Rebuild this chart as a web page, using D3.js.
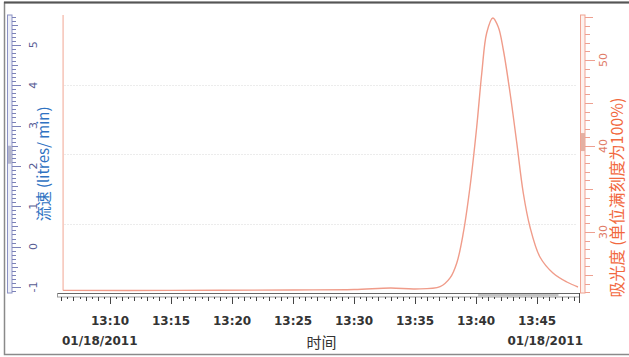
<!DOCTYPE html>
<html>
<head>
<meta charset="utf-8">
<script src="https://cdn.jsdelivr.net/npm/d3@7"></script>
<style>
  body { margin: 0; background: #fff; }
  svg { display: block; }
</style>
</head>
<body>
<div id="showBox"></div>
<script>
// absorbance trace, time of day vs percent of full scale
const times = ["13:06:09", "13:15:00", "13:25:00", "13:30:00", "13:33:00", "13:35:00", "13:37:03", "13:37:52",
  "13:38:25", "13:38:57", "13:39:30", "13:40:03", "13:40:28", "13:40:52", "13:41:22", "13:41:49", "13:42:14",
  "13:42:47", "13:43:20", "13:43:52", "13:44:25", "13:45:14", "13:46:18", "13:47:26", "13:48:21"]
const absorb = [23.2, 23.2, 23.25, 23.3, 23.48, 23.37, 23.64, 24.65,
  26.39, 29.88, 35.23, 42.21, 48.49, 53.14, 54.88, 53.83, 51.16,
  46.16, 40.35, 34.53, 30.58, 27.09, 25.23, 24.18, 23.6]

const timeRange = ["13:05:44", "13:48:26"]
const flowRange = [-1.15, 5.74]
const absRange = [22.9, 55.23]
const flowLabels = [-1, 0, 1, 2, 3, 4, 5]
const absLabels = [30, 40, 50]
const dateLabel = "01/18/2011"

const parse = d3.timeParse("%H:%M:%S")

const W = 629, H = 357
const pTop = 15, pBottom = 293, pLeft = 58, pRight = 579

const x = d3.scaleTime().domain(timeRange.map(parse)).range([pLeft, pRight])
const yFlow = d3.scaleLinear().domain(flowRange).range([pBottom, pTop])
const yAbs = d3.scaleLinear().domain(absRange).range([pBottom, pTop])
const yGrid = d3.scaleLinear().domain([0, 4]).range([pBottom, pTop])

const svg = d3.select("#showBox").append("svg")
    .attr("width", W).attr("height", H)

// outer frame
svg.append("rect")
    .attr("x", 4.5).attr("y", 2.5).attr("width", W + 10).attr("height", 352)
    .attr("fill", "none").attr("stroke", "#8a8a8a").attr("stroke-width", 1.5)
svg.append("line")
    .attr("x1", 4).attr("x2", W).attr("y1", 2.5).attr("y2", 2.5)
    .attr("stroke", "#555").attr("stroke-width", 2)

// grid
svg.append("g").selectAll("line")
    .data([1, 2, 3])
    .join("line")
    .attr("x1", pLeft + 6).attr("x2", pRight - 2)
    .attr("y1", d => Math.round(yGrid(d)) + 0.5).attr("y2", d => Math.round(yGrid(d)) + 0.5)
    .attr("stroke", "#ececec").attr("stroke-dasharray", "2,1")

// left flow axis
const lg = svg.append("g")
lg.append("rect").attr("x", 7.5).attr("y", pTop).attr("width", 4.5).attr("height", pBottom - pTop)
    .attr("fill", "#eef0f8").attr("stroke", "#8c92c4")
lg.append("rect").attr("x", 8).attr("y", yFlow(2.5)).attr("width", 4).attr("height", 18)
    .attr("fill", "#b4b6cc")
const flowTicks = d3.range(-11, 58).map(d => d / 10)
lg.selectAll("line.t")
    .data(flowTicks)
    .join("line")
    .attr("x1", 12).attr("x2", d => Math.abs(d - Math.round(d)) < 0.01 ? 21 : (Math.abs(d * 2 - Math.round(d * 2)) < 0.01 ? 18 : 16))
    .attr("y1", d => Math.round(yFlow(d)) + 0.5).attr("y2", d => Math.round(yFlow(d)) + 0.5)
    .attr("stroke", "#7c82b8")
lg.selectAll("text")
    .data(flowLabels)
    .join("text")
    .attr("transform", d => `translate(37,${yFlow(d)}) rotate(-90)`)
    .attr("text-anchor", "middle")
    .attr("font-family", "DejaVu Sans").attr("font-size", 11)
    .attr("fill", "#575c94")
    .text(d => d)
svg.append("text")
    .attr("transform", `translate(49,${yFlow(2.05)}) rotate(-90)`)
    .attr("text-anchor", "middle")
    .attr("font-family", "Noto Sans CJK SC").attr("font-size", 15)
    .attr("fill", "#2f72c2")
    .text("流速 (litres/ min)")

// right absorbance axis
const rg = svg.append("g")
rg.append("rect").attr("x", 580.5).attr("y", pTop).attr("width", 4.5).attr("height", pBottom - pTop)
    .attr("fill", "#fdf2ee").attr("stroke", "#f0a392")
rg.append("rect").attr("x", 581).attr("y", yAbs(41.5)).attr("width", 4).attr("height", 18)
    .attr("fill", "#e4b0a2")
const absTicks = d3.range(23, 56)
rg.selectAll("line.t")
    .data(absTicks)
    .join("line")
    .attr("x1", 585).attr("x2", d => d % 10 === 0 ? 595 : (d % 5 === 0 ? 593 : 590))
    .attr("y1", d => Math.round(yAbs(d)) + 0.5).attr("y2", d => Math.round(yAbs(d)) + 0.5)
    .attr("stroke", "#eea090")
rg.selectAll("text")
    .data(absLabels)
    .join("text")
    .attr("transform", d => `translate(607,${yAbs(d)}) rotate(-90)`)
    .attr("text-anchor", "middle")
    .attr("font-family", "DejaVu Sans").attr("font-size", 11)
    .attr("fill", "#e07a66")
    .text(d => d)
svg.append("text")
    .attr("transform", `translate(623,${yAbs(34)}) rotate(-90)`)
    .attr("text-anchor", "middle")
    .attr("font-family", "Noto Sans CJK SC").attr("font-size", 16)
    .attr("fill", "#f2683e")
    .text("吸光度 (单位满刻度为100%)")

// trace
const data = times.map((t, i) => ({t: parse(t), v: absorb[i]}))
svg.append("line")
    .attr("x1", x(data[0].t)).attr("x2", x(data[0].t))
    .attr("y1", pTop).attr("y2", yAbs(data[0].v))
    .attr("stroke", "#f4b4a4").attr("stroke-width", 1.2)
svg.append("path")
    .datum(data)
    .attr("fill", "none")
    .attr("stroke", "#f09c8a").attr("stroke-width", 1.4)
    .attr("d", d3.line().x(d => x(d.t)).y(d => yAbs(d.v)).curve(d3.curveCatmullRom.alpha(0.5)))

// bottom time axis
const bg = svg.append("g")
bg.append("rect").attr("x", pLeft - 0.5).attr("y", pBottom + 0.5).attr("width", pRight - pLeft + 1).attr("height", 3.5)
    .attr("fill", "#fff").attr("stroke", "#9a9a9a")
bg.append("line").attr("x1", pLeft).attr("x2", pRight + 1).attr("y1", pBottom + 0.5).attr("y2", pBottom + 0.5)
    .attr("stroke", "#666")
bg.append("rect").attr("x", x(parse("13:40:10"))).attr("y", pBottom + 1).attr("width", x(parse("13:46:45")) - x(parse("13:40:10"))).attr("height", 3)
    .attr("fill", "#c4c4c4")
const halfMin = d3.timeSecond.every(30).range(x.domain()[0], x.domain()[1])
bg.selectAll("line.t")
    .data(halfMin)
    .join("line")
    .attr("x1", d => Math.round(x(d)) + 0.5).attr("x2", d => Math.round(x(d)) + 0.5)
    .attr("y1", pBottom + 4)
    .attr("y2", d => d.getMinutes() % 5 === 0 && d.getSeconds() === 0 ? pBottom + 11 : (d.getSeconds() === 0 ? pBottom + 8 : pBottom + 6))
    .attr("stroke", "#444")
bg.append("line").attr("x1", pRight + 0.5).attr("x2", pRight + 0.5).attr("y1", pBottom).attr("y2", pBottom + 10)
    .attr("stroke", "#444")
bg.selectAll("text.tick")
    .data(d3.timeMinute.every(5).range(x.domain()[0], x.domain()[1]))
    .join("text")
    .attr("x", d => x(d)).attr("y", 325)
    .attr("text-anchor", "middle")
    .attr("font-family", "DejaVu Sans").attr("font-weight", "bold").attr("font-size", 12)
    .attr("fill", "#333")
    .text(d3.timeFormat("%H:%M"))
bg.append("text").attr("x", 62).attr("y", 345)
    .attr("font-family", "DejaVu Sans").attr("font-weight", "bold").attr("font-size", 12)
    .attr("fill", "#333").text(dateLabel)
bg.append("text").attr("x", 583).attr("y", 345).attr("text-anchor", "end")
    .attr("font-family", "DejaVu Sans").attr("font-weight", "bold").attr("font-size", 12)
    .attr("fill", "#333").text(dateLabel)
bg.append("text").attr("x", (pLeft + pRight) / 2 + 3).attr("y", 348).attr("text-anchor", "middle")
    .attr("font-family", "Noto Sans CJK SC").attr("font-size", 15)
    .attr("fill", "#333").text("时间")
</script>
</body>
</html>
